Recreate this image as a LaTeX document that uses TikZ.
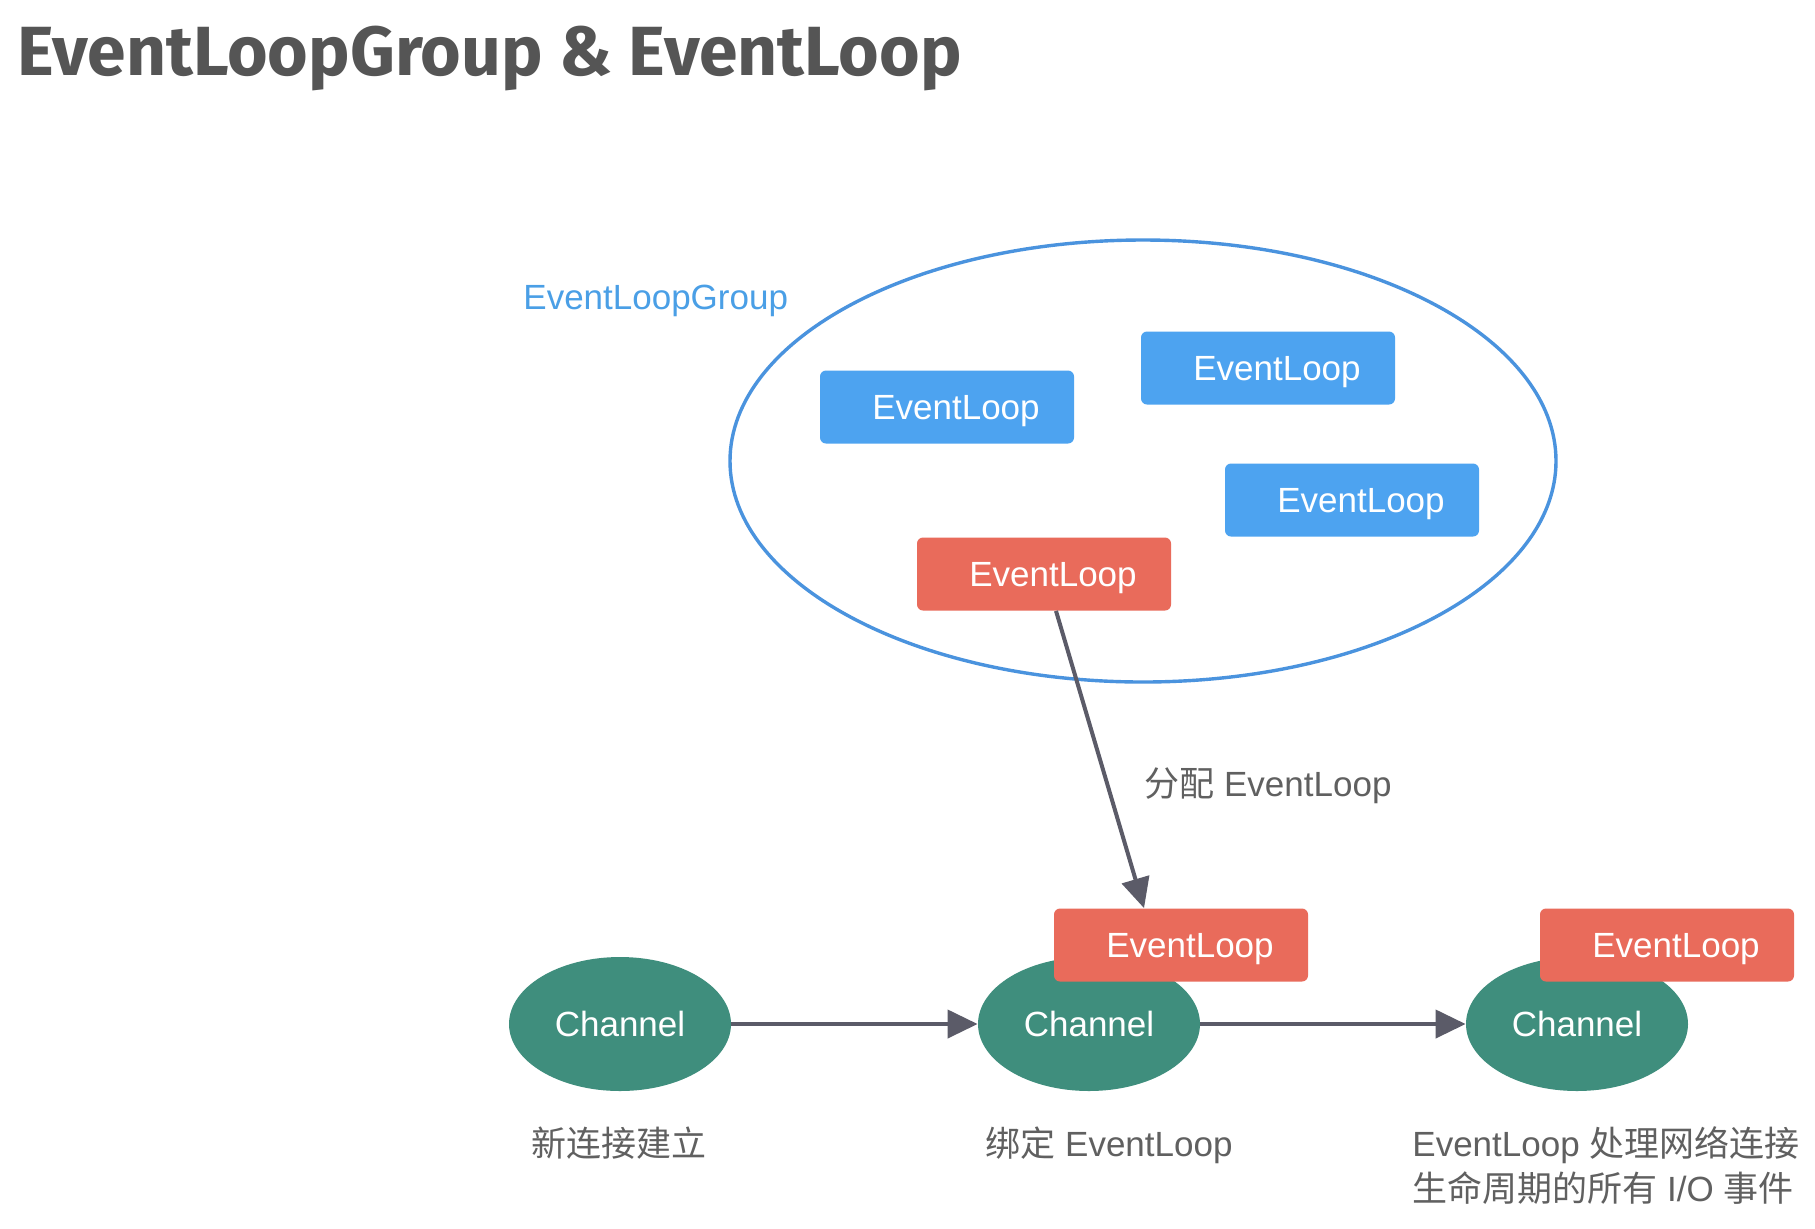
\documentclass[tikz,border=0pt]{standalone}
\usepackage{fontspec}
\setmainfont{Liberation Sans}
\newfontfamily\cjk{Noto Sans CJK SC}
\newfontfamily\titlefont{Fira Sans}
\usetikzlibrary{shapes.geometric,arrows.meta,calc}
\definecolor{elblue}{HTML}{4DA3F0}
\definecolor{grpblue}{HTML}{4A93DE}
\definecolor{lblblue}{HTML}{4A9FE6}
\definecolor{elred}{HTML}{E96B5B}
\definecolor{chteal}{HTML}{3F8E7D}
\definecolor{arrgray}{HTML}{5B5B68}
\definecolor{txtgray}{HTML}{606060}
\definecolor{titlegray}{HTML}{555555}
\tikzset{
  base/.style={font=\fontsize{17.5pt}{21pt}\selectfont, text height=12.5pt, text depth=0pt},
  loopbox/.style={base, rectangle, rounded corners=3pt, minimum width=127pt, minimum height=36.5pt, inner sep=0pt, text=white, execute at begin node={\hspace*{9pt}}},
  blueloop/.style={loopbox, fill=elblue},
  redloop/.style={loopbox, fill=elred},
  chan/.style={base, ellipse, fill=chteal, text=white, minimum width=111pt, minimum height=67pt, inner sep=0pt},
  conn/.style={draw=arrgray, line width=2pt, -{Triangle[length=15pt,width=14pt]}},
  caption/.style={base, text=txtgray, inner sep=0pt},
}
\begin{document}
\begin{tikzpicture}[x=0.5pt,y=-0.5pt]
\useasboundingbox[fill=white] (0,0) rectangle (1815,1228);
% title
\node[anchor=base west, inner sep=0pt, text=titlegray] (title) at (17,75)
  {\resizebox{472pt}{!}{\titlefont\bfseries EventLoopGroup \& EventLoop}};
% group
\node[draw=grpblue, line width=1.7pt, ellipse, minimum width=413pt, minimum height=221pt, inner sep=0pt] (grp) at (1143,461) {};
\node[base, text=lblblue, anchor=west, inner sep=0pt] (grplbl) at (523,297) {EventLoopGroup};
\node[blueloop] (b1) at (947,407) {EventLoop};
\node[blueloop] (b2) at (1268,368) {EventLoop};
\node[blueloop] (b3) at (1352,500) {EventLoop};
\node[redloop] (r0) at (1044,574) {EventLoop};
% channels
\node[chan] (c1) at (620,1024) {Channel};
\node[chan] (c2) at (1089,1024) {Channel};
\node[chan] (c3) at (1577,1024) {Channel};
\node[redloop] (r1) at (1181,945) {EventLoop};
\node[redloop] (r2) at (1667,945) {EventLoop};
% arrows
\draw[conn] ([xshift=6pt]r0.south) -- ([xshift=-18.5pt]r1.north);
\node[caption, anchor=west] (assign) at (1144,784) {{\cjk 分配} EventLoop};
\draw[conn] (c1.east) -- (c2.west);
\draw[conn] (c2.east) -- (c3.west);
% captions
\node[caption] (cap1) at (619,1144) {\cjk 新连接建立};
\node[caption] (cap2) at (1109,1144) {{\cjk 绑定} EventLoop};
\node[caption, anchor=west] (cap3a) at (1412,1144) {EventLoop {\cjk 处理网络连接}};
\node[caption, anchor=west] (cap3b) at (1412,1189) {{\cjk 生命周期的所有} I/O {\cjk 事件}};
\end{tikzpicture}
\end{document}
